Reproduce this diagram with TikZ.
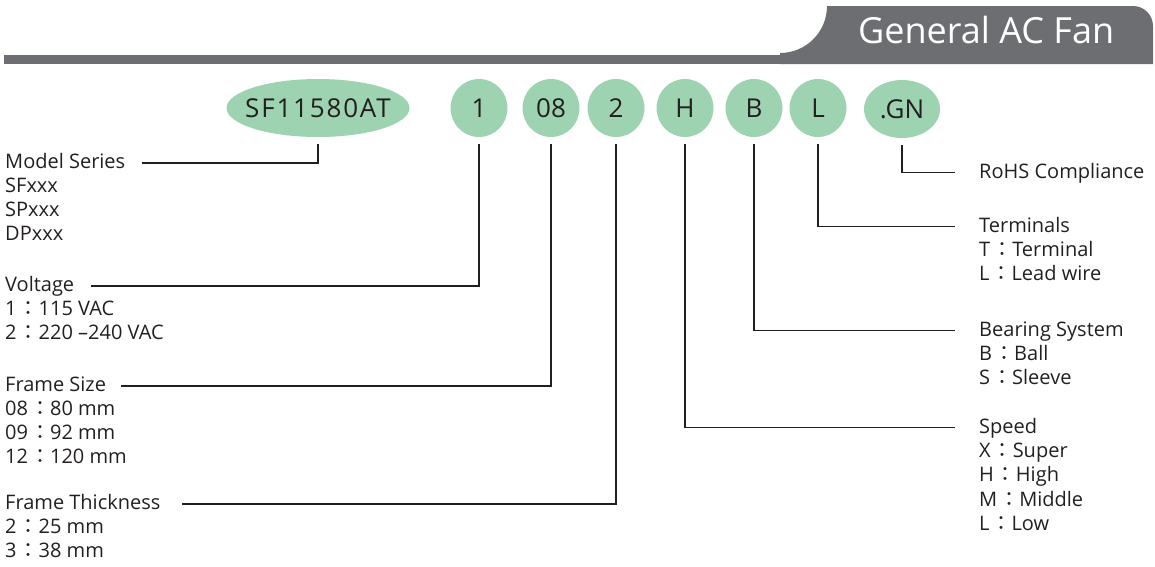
\documentclass[tikz,border=0pt]{standalone}
\usepackage{fontspec}
\setmainfont{Open Sans}
\newfontfamily\cjk{Noto Sans CJK TC}
\usetikzlibrary{calc,shapes.geometric}
\definecolor{fangreen}{HTML}{9DD3B1}
\definecolor{hdrgrey}{HTML}{6D6E71}
\definecolor{ink}{HTML}{231F20}
\newcommand\cc{\kern2pt{\cjk ：}\kern0pt}
\begin{document}
\begin{tikzpicture}[x=1pt,y=-1pt,
  code/.style={ellipse, fill=fangreen, inner sep=0, minimum width=57, minimum height=58,
    font=\fontsize{26}{30}\selectfont, text=ink},
  lbl/.style={anchor=base west, inner sep=0, font=\fontsize{20}{24}\selectfont, text=ink},
  conn/.style={draw=ink, line width=1.2pt}]
\useasboundingbox (0,0) rectangle (1155,566);
% header
\fill[hdrgrey] (4,55) rectangle (1153,64);
\fill[hdrgrey] (780,53) arc[start angle=90, end angle=0, radius=47]
  -- (1133,6) arc[start angle=-90, end angle=0, radius=20]
  -- (1153,64) -- (780,64) -- cycle;
\node[anchor=base west, inner sep=0, text=white, font=\fontsize{36}{40}\selectfont] (hdr) at (858,43) {General AC Fan};
% code elements
\node[code, inner xsep=-30pt, inner ysep=-6pt, minimum width=183,
  font=\fontsize{26}{30}\selectfont\addfontfeatures{LetterSpace=7}] (e0) at (318,108) {SF11580AT};
\node[code] (e1) at (479,108) {1};
\node[code] (e2) at (551,108) {08};
\node[code] (e3) at (616,108) {2};
\node[code] (e4) at (685,108) {H};
\node[code] (e5) at (754,108) {B};
\node[code] (e6) at (818,108) {L};
\node[code, minimum width=76] (e7) at (902,109) {.GN};
% left labels
\node[lbl] (ms) at (5,168) {Model Series};
\node[lbl] (ms1) at (5,192) {SFxxx};
\node[lbl] (ms2) at (5,216) {SPxxx};
\node[lbl] (ms3) at (5,240) {DPxxx};
\node[lbl] (vo) at (5,291) {Voltage};
\node[lbl] (vo1) at (5,315) {1\cc 115 VAC};
\node[lbl] (vo2) at (5,339) {2\cc 220 –240 VAC};
\node[lbl] (fs) at (5,391) {Frame Size};
\node[lbl] (fs1) at (5,415) {08\cc 80 mm};
\node[lbl] (fs2) at (5,439) {09\cc 92 mm};
\node[lbl] (fs3) at (5,463) {12\cc 120 mm};
\node[lbl] (ft) at (5,509) {Frame Thickness};
\node[lbl] (ft1) at (5,533) {2\cc 25 mm};
\node[lbl] (ft2) at (5,557) {3\cc 38 mm};
% right labels
\node[lbl] (ro) at (979,178) {RoHS Compliance};
\node[lbl] (te) at (979,232) {Terminals};
\node[lbl] (te1) at (979,256) {T\cc Terminal};
\node[lbl] (te2) at (979,280) {L\cc Lead wire};
\node[lbl] (be) at (979,336) {Bearing System};
\node[lbl] (be1) at (979,360) {B\cc Ball};
\node[lbl] (be2) at (979,384) {S\cc Sleeve};
\node[lbl] (sp) at (979,433) {Speed};
\node[lbl] (sp1) at (979,457) {X\cc Super};
\node[lbl] (sp2) at (979,481) {H\cc High};
\node[lbl] (sp3) at (979,506) {M\cc Middle};
\node[lbl] (sp4) at (979,530) {L\cc Low};
% connectors
\draw[conn] ($(e0.south)+(0,7)$) |- ($(ms.base east)+(17,-5)$);
\draw[conn] ($(e1.south)+(0,7)$) |- ($(vo.base east)+(17,-5)$);
\draw[conn] ($(e2.south)+(0,7)$) |- ($(fs.base east)+(15,-5)$);
\draw[conn] ($(e3.south)+(0,7)$) |- ($(ft.base east)+(21,-5)$);
\draw[conn] ($(e4.south)+(0,7)$) |- ($(sp.base west)+(-24,-5.5)$);
\draw[conn] ($(e5.south)+(0,7)$) |- ($(be.base west)+(-24,-5.5)$);
\draw[conn] ($(e6.south)+(0,7)$) |- ($(te.base west)+(-24,-5.5)$);
\draw[conn] ($(e7.south)+(0,7)$) |- ($(ro.base west)+(-24,-5.5)$);
\end{tikzpicture}
\end{document}
